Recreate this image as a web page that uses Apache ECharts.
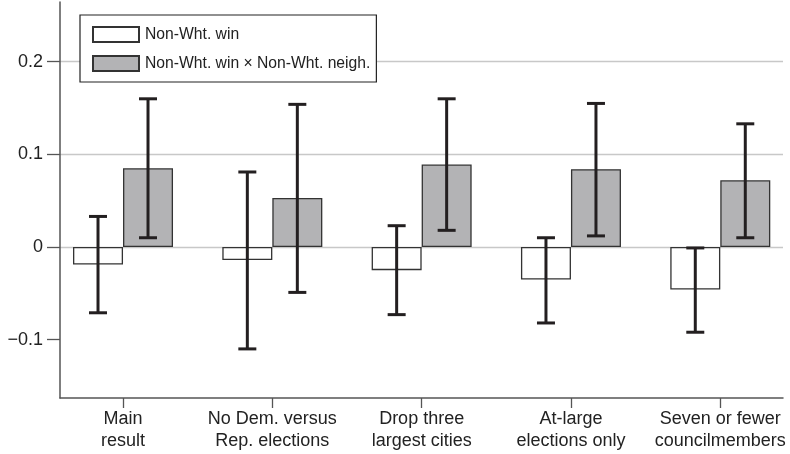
<!DOCTYPE html>
<html>
<head>
<meta charset="utf-8">
<script src="https://cdn.jsdelivr.net/npm/echarts@6/dist/echarts.min.js"></script>
<style>
  html, body { margin: 0; padding: 0; background: #fff; }
  #chart { width: 790px; height: 454px; }
</style>
</head>
<body>
<div id="chart"></div>
<script>
// categories and estimates
var categories = ['Main\nresult', 'No Dem. versus\nRep. elections', 'Drop three\nlargest cities', 'At-large\nelections only', 'Seven or fewer\ncouncilmembers'];
var seriesNames = ['Non-Wht. win', 'Non-Wht. win \u00d7 Non-Wht. neigh.'];

var winEst = [-0.019, -0.014, -0.025, -0.035, -0.046];
var winLo  = [-0.071, -0.110, -0.073, -0.082, -0.092];
var winHi  = [ 0.033,  0.081,  0.023,  0.010, -0.001];

var intEst = [0.085, 0.053, 0.089, 0.084, 0.072];
var intLo  = [0.010, -0.049, 0.018, 0.012, 0.010];
var intHi  = [0.160, 0.154, 0.160, 0.155, 0.133];

var yTicks = [-0.1, 0, 0.1, 0.2];
var xTicks = [0, 1, 2, 3, 4];

var BAR_W = 50;
var INK = '#231f20';

var chart = echarts.init(document.getElementById('chart'));

function pairs(vals) {
    return vals.map(function (v, i) { return [i, v]; });
}

function errData(lo, hi, side) {
    return lo.map(function (l, i) { return [i, l, hi[i], side]; });
}

function renderErr(params, api) {
    var side = api.value(3);
    var lo = api.coord([api.value(0), api.value(1)]);
    var hi = api.coord([api.value(0), api.value(2)]);
    var x = lo[0] + side * BAR_W / 2;
    var cap = 9;
    var style = { stroke: INK, lineWidth: 3 };
    return {
        type: 'group',
        children: [
            { type: 'line', shape: { x1: x, y1: lo[1], x2: x, y2: hi[1] }, style: style },
            { type: 'line', shape: { x1: x - cap, y1: lo[1], x2: x + cap, y2: lo[1] }, style: style },
            { type: 'line', shape: { x1: x - cap, y1: hi[1], x2: x + cap, y2: hi[1] }, style: style }
        ]
    };
}

var option = {
    backgroundColor: '#fff',
    animation: false,
    textStyle: { fontFamily: 'Liberation Sans, Arial, sans-serif', color: '#222' },
    grid: { left: 60, right: 7, top: 2, bottom: 56 },
    legend: {
        orient: 'vertical',
        left: 80,
        top: 15,
        padding: [11, 6, 10, 12],
        itemGap: 12,
        itemWidth: 46,
        itemHeight: 15,
        backgroundColor: '#fff',
        borderColor: '#222',
        borderWidth: 1.2,
        borderRadius: 0,
        icon: 'rect',
        data: seriesNames,
        textStyle: { fontSize: 15.7, color: '#222', padding: [0, 0, 0, 1] }
    },
    xAxis: {
        type: 'value',
        min: -0.422,
        max: 4.42,
        splitLine: { show: false },
        axisLine: { show: true, onZero: false, lineStyle: { color: '#555', width: 1.5 } },
        axisTick: { show: true, length: 10, customValues: xTicks, lineStyle: { color: '#555', width: 1.3 } },
        axisLabel: {
            customValues: xTicks,
            margin: 10,
            fontSize: 18,
            lineHeight: 22,
            color: '#222',
            formatter: function (v) { return categories[Math.round(v)]; }
        }
    },
    yAxis: {
        type: 'value',
        min: -0.163,
        max: 0.2645,
        axisLine: { show: true, onZero: false, lineStyle: { color: '#555', width: 1.5 } },
        axisTick: { show: true, length: 13, customValues: yTicks, lineStyle: { color: '#555', width: 1.3 } },
        axisLabel: {
            customValues: yTicks,
            margin: 17,
            fontSize: 18,
            color: '#222',
            formatter: function (v) { return String(v).replace('-', '\u2212'); }
        },
        splitLine: { show: true, showMinLine: false, showMaxLine: true, lineStyle: { color: '#c8c8c8', width: 1.3 } }
    },
    series: [
        {
            name: seriesNames[0],
            type: 'bar',
            data: pairs(winEst),
            barWidth: BAR_W,
            barGap: '0%',
            itemStyle: { color: '#fff', borderColor: '#333', borderWidth: 1.3 },
            z: 2
        },
        {
            name: seriesNames[1],
            type: 'bar',
            data: pairs(intEst),
            barWidth: BAR_W,
            barGap: '0%',
            itemStyle: { color: '#b3b3b5', borderColor: '#333', borderWidth: 1.3 },
            z: 2
        },
        {
            type: 'custom',
            renderItem: renderErr,
            data: errData(winLo, winHi, -1),
            encode: { x: 0, y: [1, 2] },
            z: 5
        },
        {
            type: 'custom',
            renderItem: renderErr,
            data: errData(intLo, intHi, 1),
            encode: { x: 0, y: [1, 2] },
            z: 5
        }
    ]
};

chart.setOption(option);
</script>
</body>
</html>
